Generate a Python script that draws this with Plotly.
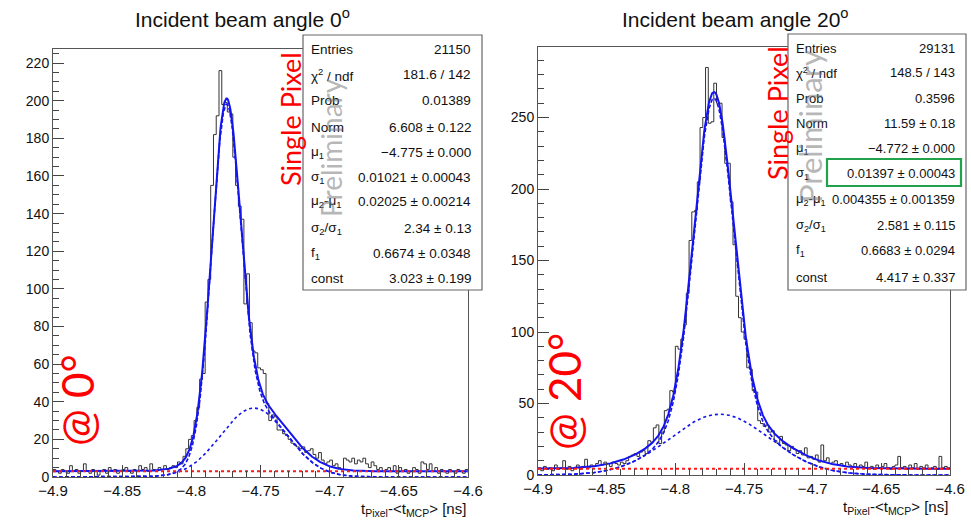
import numpy as np
import plotly.graph_objects as go

# ---------------- data ----------------
X_MIN, X_MAX = -4.9, -4.6
N_BINS = 150

counts_0deg = [
    4, 3, 2, 4, 3, 2, 6, 3, 4, 2, 3, 7, 3, 2, 4, 3, 1, 3, 4, 2,
    5, 3, 4, 2, 3, 4, 5, 3, 2, 4, 3, 6, 4, 5, 3, 7, 4, 3, 5, 4,
    6, 4, 5, 6, 5, 8, 7, 11, 15, 20, 22, 30, 37, 52, 55, 93, 105, 155, 182, 192,
    216, 198, 199, 194, 193, 170, 155, 144, 137, 92, 108, 82, 67, 66, 58, 57, 55, 39, 30, 33,
    32, 25, 25, 23, 22, 20, 18, 17, 16, 15, 16, 13, 14, 15, 12, 10, 13, 9, 7, 8,
    9, 6, 7, 5, 4, 10, 9, 8, 10, 7, 9, 8, 10, 7, 5, 8, 6, 4, 5, 3,
    4, 5, 3, 6, 2, 5, 3, 4, 2, 3, 5, 4, 2, 8, 7, 4, 7, 3, 5, 2,
    4, 3, 2, 4, 3, 2, 4, 3, 2, 4,
]
counts_20deg = [
    5, 3, 6, 4, 5, 3, 7, 4, 5, 10, 4, 6, 3, 5, 7, 4, 6, 11, 5, 7,
    6, 8, 10, 7, 9, 8, 6, 9, 8, 7, 9, 8, 10, 13, 14, 15, 13, 16, 17, 15,
    24, 23, 33, 35, 22, 30, 45, 46, 59, 58, 90, 88, 95, 105, 127, 164, 184, 185, 205, 243,
    250, 285, 246, 247, 274, 260, 260, 236, 218, 218, 191, 161, 125, 110, 100, 95, 75, 74, 59, 58,
    38, 36, 34, 35, 30, 31, 24, 22, 27, 22, 21, 17, 20, 18, 15, 17, 14, 19, 12, 13,
    11, 14, 9, 21, 10, 12, 8, 9, 10, 7, 8, 6, 9, 7, 6, 8, 5, 7, 6, 9,
    5, 6, 4, 7, 5, 6, 8, 5, 4, 6, 7, 13, 5, 6, 4, 7, 5, 8, 4, 6,
    5, 7, 4, 5, 6, 4, 13, 5, 6, 5,
]

# fit parameters (Norm, mu1, sigma1, mu2-mu1, sigma2/sigma1, f1, const)
fit_0deg = [6.608, -4.775, 0.01021, 0.02025, 2.34, 0.6674, 3.023]
fit_20deg = [11.59, -4.772, 0.01397, 0.004355, 2.581, 0.6683, 4.417]

x_tick_vals = [-4.9, -4.85, -4.8, -4.75, -4.7, -4.65, -4.6]
x_tick_text = ["−4.9", "−4.85", "−4.8", "−4.75", "−4.7", "−4.65", "−4.6"]

stat_labels = ["Entries", "χ<sup>2</sup> / ndf", "Prob", "Norm", "μ<sub>1</sub>",
               "σ<sub>1</sub>", "μ<sub>2</sub>-μ<sub>1</sub>", "σ<sub>2</sub>/σ<sub>1</sub>",
               "f<sub>1</sub>", "const"]
stat_values_0deg = ["21150", "181.6 / 142", "0.01389", "6.608 ± 0.122", "−4.775 ± 0.000",
                    "0.01021 ± 0.00043", "0.02025 ± 0.00214", "2.34 ± 0.13",
                    "0.6674 ± 0.0348", "3.023 ± 0.199"]
stat_values_20deg = ["29131", "148.5 / 143", "0.3596", "11.59 ± 0.18", "−4.772 ± 0.000",
                     "0.01397 ± 0.00043", "0.004355 ± 0.001359", "2.581 ± 0.115",
                     "0.6683 ± 0.0294", "4.417 ± 0.337"]

titles = ["Incident beam angle 0<sup>o</sup>", "Incident beam angle 20<sup>o</sup>"]
angle_labels = ["@ 0°", "@ 20°"]
y_max = [227.5, 299.3]

# ---------------- figure ----------------
W, H = 971, 520


def fx(p):
    return p / W


def fy(p):
    return 1 - p / H


panels = [
    dict(x0=53, x1=468, y0=477, y1=49, counts=counts_0deg, fit=fit_0deg,
         stats=stat_values_0deg, box=(303, 482, 35, 290), sfont=13.5,
         rows=[50, 75, 101, 127, 152, 177, 202, 228, 253, 278], ydt=20, ymin=5,
         title_x=243, sp=(291, 119), pre=(331, 148), at=(77, 400)),
    dict(x0=538, x1=950, y0=475, y1=47, counts=counts_20deg, fit=fit_20deg,
         stats=stat_values_20deg, box=(788, 966, 34, 290), sfont=13,
         rows=[48, 73, 98, 123, 148, 174, 200, 225, 250, 277], ydt=50, ymin=10,
         title_x=735, sp=(777, 113), pre=(810, 127), at=(564, 392)),
]

fig = go.Figure()
annotations = []
shapes = []
edges = np.linspace(X_MIN, X_MAX, N_BINS + 1)
xs = np.linspace(X_MIN, X_MAX, 901)
SANS = "Liberation Sans, Arial, sans-serif"
CAL = "Lato, Open Sans, sans-serif"

for k, p in enumerate(panels):
    xa = "x" if k == 0 else "x2"
    ya = "y" if k == 0 else "y2"
    counts = list(p["counts"])
    fig.add_trace(go.Scatter(x=edges, y=counts + [counts[-1]], mode="lines",
                             line=dict(shape="hv", color="#333333", width=1),
                             xaxis=xa, yaxis=ya, hoverinfo="skip"))
    norm, mu1, s1, dmu, ratio, f1, const = p["fit"]
    mu2 = mu1 + dmu
    s2 = s1 * ratio
    g1 = norm * f1 / (np.sqrt(2 * np.pi) * s1) * np.exp(-(xs - mu1) ** 2 / (2 * s1 ** 2))
    g2 = norm * (1 - f1) / (np.sqrt(2 * np.pi) * s2) * np.exp(-(xs - mu2) ** 2 / (2 * s2 ** 2))
    blue = "#1414f0"
    fig.add_trace(go.Scatter(x=xs, y=g2, mode="lines", line=dict(color=blue, width=1.6, dash="dot"),
                             xaxis=xa, yaxis=ya, hoverinfo="skip"))
    fig.add_trace(go.Scatter(x=xs, y=g1 + g2, mode="lines",
                             line=dict(color=blue, width=1.6, dash="4px,2px"),
                             xaxis=xa, yaxis=ya, hoverinfo="skip"))
    fig.add_trace(go.Scatter(x=xs, y=g1 + g2 + const, mode="lines", line=dict(color=blue, width=2),
                             xaxis=xa, yaxis=ya, hoverinfo="skip"))
    fig.add_trace(go.Scatter(x=[X_MIN, X_MAX], y=[const, const], mode="lines",
                             line=dict(color="#ff1a1a", width=2, dash="dot"),
                             xaxis=xa, yaxis=ya, hoverinfo="skip"))

    # title
    annotations.append(dict(x=fx(p["title_x"]), y=fy(18), xref="paper", yref="paper",
                            text=titles[k], showarrow=False, xanchor="center", yanchor="middle",
                            font=dict(family=SANS, size=21, color="#111")))
    # x axis title
    annotations.append(dict(x=fx(p["x1"]), y=fy(p["y0"] + 21), xref="paper", yref="paper",
                            text="t<sub>Pixel</sub>-&lt;t<sub>MCP</sub>&gt; [ns]", showarrow=False,
                            xanchor="right", yanchor="top",
                            font=dict(family=SANS, size=15, color="#111")))
    # stats box
    bx0, bx1, by0, by1 = p["box"]
    shapes.append(dict(type="rect", xref="paper", yref="paper", x0=fx(bx0), x1=fx(bx1),
                       y0=fy(by1), y1=fy(by0), fillcolor="white",
                       line=dict(color="#666", width=1.2), layer="above"))
    for lab, val, ry in zip(stat_labels, p["stats"], p["rows"]):
        annotations.append(dict(x=fx(bx0 + 6), y=fy(ry), xref="paper", yref="paper", text=lab,
                                showarrow=False, xanchor="left", yanchor="middle",
                                font=dict(family=SANS, size=p["sfont"], color="#111")))
        annotations.append(dict(x=fx(bx1 - 9), y=fy(ry), xref="paper", yref="paper", text=val,
                                showarrow=False, xanchor="right", yanchor="middle",
                                font=dict(family=SANS, size=p["sfont"], color="#111")))
    # overlay texts
    annotations.append(dict(x=fx(p["sp"][0]), y=fy(p["sp"][1]), xref="paper", yref="paper",
                            text="Single Pixel", textangle=-90, showarrow=False,
                            xanchor="center", yanchor="middle",
                            font=dict(family=CAL, size=27, color="#ff0000")))
    annotations.append(dict(x=fx(p["pre"][0]), y=fy(p["pre"][1]), xref="paper", yref="paper",
                            text="Preliminary", textangle=-90, showarrow=False,
                            xanchor="center", yanchor="middle",
                            font=dict(family=CAL, size=28 if k == 0 else 31,
                                      color="rgba(120,120,120,0.55)")))
    annotations.append(dict(x=fx(p["at"][0]), y=fy(p["at"][1]), xref="paper", yref="paper",
                            text=angle_labels[k], textangle=-90, showarrow=False,
                            xanchor="center", yanchor="middle",
                            font=dict(family=CAL, size=44, color="#ff0000")))

# green highlight around sigma1 value (right panel)
shapes.append(dict(type="rect", xref="paper", yref="paper", x0=fx(827), x1=fx(961),
                   y0=fy(186), y1=fy(159), line=dict(color="#1fa24a", width=2.2), layer="above"))

axis_common = dict(showgrid=False, zeroline=False, showline=True, mirror=True,
                   linecolor="#555", linewidth=1, ticks="inside", tickcolor="#444",
                   automargin=False,
                   tickfont=dict(family=SANS, size=15, color="#111"))

layout = dict(width=W, height=H, margin=dict(l=0, r=0, t=0, b=0, autoexpand=False),
              paper_bgcolor="white", plot_bgcolor="white", showlegend=False,
              annotations=annotations, shapes=shapes)
for k, p in enumerate(panels):
    sx = "" if k == 0 else "2"
    layout["xaxis" + sx] = dict(axis_common, domain=[fx(p["x0"]), fx(p["x1"])],
                                range=[X_MIN, X_MAX], tickmode="array", tickvals=x_tick_vals,
                                ticktext=x_tick_text, ticklen=12, tickangle=0,
                                anchor="y" + sx,
                                minor=dict(tickmode="linear", tick0=X_MIN, dtick=0.01, ticklen=6,
                                           ticks="inside", tickcolor="#444"))
    layout["yaxis" + sx] = dict(axis_common, domain=[fy(p["y0"]), fy(p["y1"])],
                                range=[0, y_max[k]], dtick=p["ydt"], ticklen=11, anchor="x" + sx,
                                tickfont=dict(family=SANS, size=14, color="#111"),
                                minor=dict(dtick=p["ymin"], ticklen=6, ticks="inside", tickcolor="#444"))

fig.update_layout(**layout)
fig.write_html("out.html")
